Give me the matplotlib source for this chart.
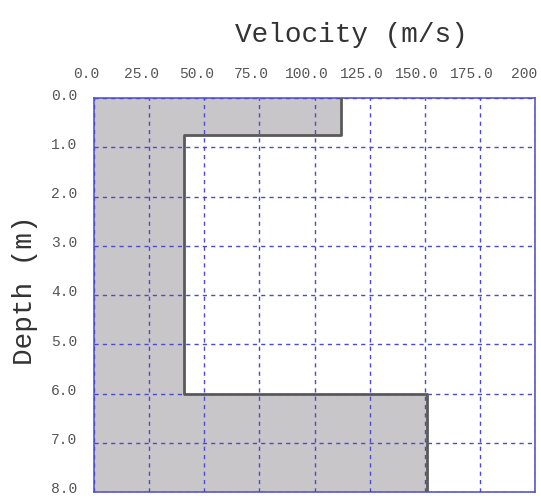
import matplotlib
matplotlib.use("Agg")
import matplotlib.pyplot as plt
import matplotlib.transforms as mtransforms
import numpy as np

# Data
layer_top = [0.0, 0.75, 6.0]
layer_bottom = [0.75, 6.0, 8.0]
velocity = [112.0, 41.0, 151.0]
x_ticks = [0, 25, 50, 75, 100, 125, 150, 175, 200]
x_ticklabels = ["0.0", "25.0", "50.0", "75.0", "100.0", "125.0", "150.0", "175.0", "200"]
y_ticks = [0, 1, 2, 3, 4, 5, 6, 7, 8]
y_ticklabels = ["0.0", "1.0", "2.0", "3.0", "4.0", "5.0", "6.0", "7.0", "8.0"]

font = "Liberation Mono"
W, H = 541, 502
fig = plt.figure(figsize=(W / 100, H / 100), dpi=100)
ax = fig.add_axes([94 / W, 9 / H, 441 / W, 394 / H])

# build step profile
ys, xs = [], []
for t, b, v in zip(layer_top, layer_bottom, velocity):
    ys += [t, b]
    xs += [v, v]
ys = np.array(ys); xs = np.array(xs)
ax.fill_betweenx(ys, 0, xs, color="#c8c6c9", zorder=1, linewidth=0)
ax.plot(xs, ys, color="#5a5a5a", linewidth=2.0, zorder=3)

ax.set_xlim(0, 200)
ax.set_ylim(8, 0)
ax.set_xticks(x_ticks)
ax.set_xticklabels(x_ticklabels, fontfamily=font, fontsize=10.5, color="#555555")
ax.set_yticks(y_ticks)
ax.set_yticklabels(y_ticklabels, fontfamily=font, fontsize=10.5, color="#555555")
ax.xaxis.tick_top()
ax.tick_params(axis="x", length=0, pad=13)
ax.tick_params(axis="y", length=0, pad=12)

# nudge labels like the reference
xshift = mtransforms.ScaledTranslation(-8 / 100, 0, fig.dpi_scale_trans)
for lbl in ax.get_xticklabels():
    lbl.set_transform(lbl.get_transform() + xshift)
ax.get_xticklabels()[-1].set_ha("right")
ax.get_xticklabels()[-1].set_transform(ax.get_xticklabels()[-1].get_transform()
                                       + mtransforms.ScaledTranslation(10 / 100, 0, fig.dpi_scale_trans))
yshift = mtransforms.ScaledTranslation(0, 5 / 100, fig.dpi_scale_trans)
for lbl in ax.get_yticklabels():
    lbl.set_transform(lbl.get_transform() + yshift)

ax.grid(True, color="#4a4ad0", linestyle=(0, (3, 3)), linewidth=1.0, zorder=2)
ax.set_axisbelow(False)
for s in ax.spines.values():
    s.set_color("#5858cc")
    s.set_linewidth(1.2)

fig.text(351 / W, 1 - 35 / H, "Velocity (m/s)", fontfamily=font, fontsize=20,
         color="#333333", ha="center", va="center")
fig.text(25 / W, 1 - 290 / H, "Depth (m)", fontfamily=font, fontsize=20,
         color="#333333", ha="center", va="center", rotation=90)

fig.savefig("out.png", dpi=100)
